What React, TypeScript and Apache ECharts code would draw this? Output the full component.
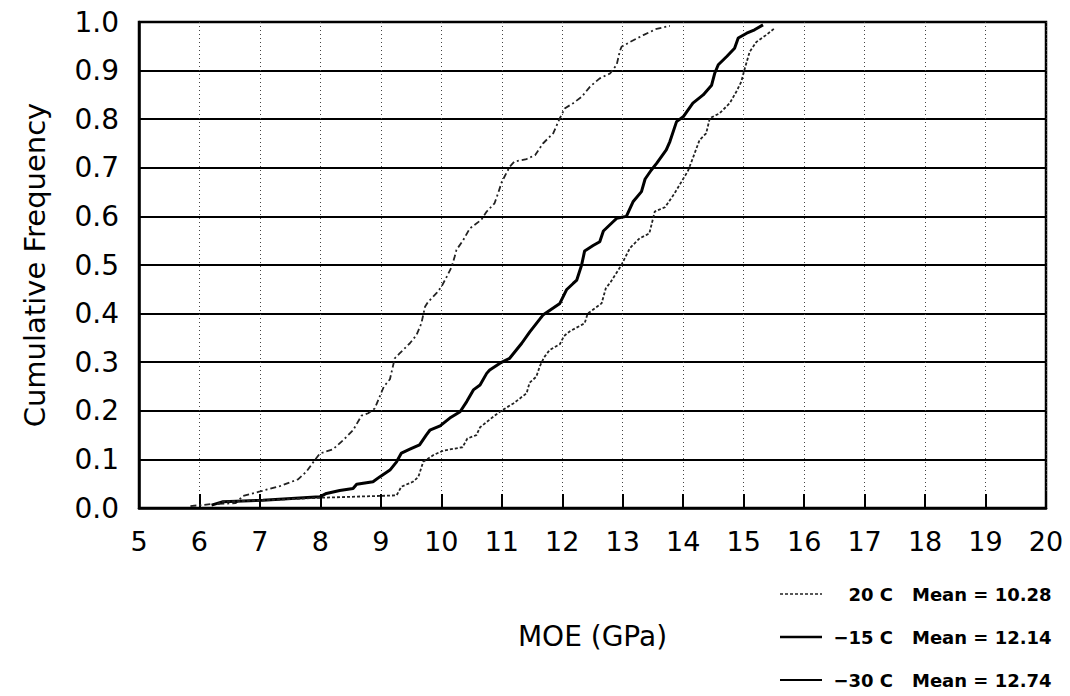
import React, { useEffect, useRef } from "react";
import * as echarts from "echarts";

const xTicks = [5, 20];
const yTicks = [0, 1];

const seriesNames = ["20 C", "−15 C", "−30 C"];
const seriesMeans = ["10.28", "12.14", "12.74"];

const c20: [number, number][] = [
  [5.85, 0.004], [6.2, 0.008], [6.6, 0.01], [6.72, 0.025], [7.0, 0.034], [7.33, 0.045],
  [7.63, 0.059], [7.77, 0.075], [7.91, 0.099], [7.99, 0.112], [8.21, 0.121], [8.38, 0.14],
  [8.54, 0.16], [8.68, 0.19], [8.79, 0.195], [8.9, 0.205], [8.98, 0.229], [9.05, 0.25],
  [9.15, 0.265], [9.23, 0.308], [9.31, 0.318], [9.48, 0.339], [9.59, 0.356], [9.67, 0.38],
  [9.73, 0.414], [9.78, 0.424], [9.92, 0.442], [10.0, 0.455], [10.09, 0.476], [10.17, 0.496],
  [10.22, 0.517], [10.25, 0.531], [10.36, 0.551], [10.47, 0.575], [10.66, 0.593], [10.75, 0.61],
  [10.88, 0.627], [10.94, 0.648], [11.0, 0.671], [11.13, 0.702], [11.21, 0.713], [11.41, 0.718],
  [11.55, 0.726], [11.68, 0.75], [11.85, 0.771], [11.96, 0.802], [12.04, 0.822], [12.18, 0.833],
  [12.32, 0.846], [12.46, 0.867], [12.62, 0.884], [12.79, 0.894], [12.9, 0.912], [12.95, 0.939],
  [12.98, 0.949], [13.12, 0.959], [13.34, 0.973], [13.56, 0.986], [13.78, 0.992],
];

const c15: [number, number][] = [
  [6.2, 0.006], [6.39, 0.013], [7.05, 0.016], [7.99, 0.023], [8.1, 0.03], [8.32, 0.036],
  [8.54, 0.04], [8.6, 0.049], [8.87, 0.054], [8.98, 0.064], [9.15, 0.078], [9.26, 0.095],
  [9.34, 0.113], [9.48, 0.121], [9.64, 0.13], [9.75, 0.15], [9.81, 0.16], [9.98, 0.169],
  [10.14, 0.185], [10.31, 0.198], [10.42, 0.219], [10.53, 0.243], [10.64, 0.253], [10.75, 0.277],
  [10.8, 0.284], [10.97, 0.298], [11.13, 0.308], [11.24, 0.325], [11.33, 0.339], [11.46, 0.362],
  [11.68, 0.397], [11.96, 0.421], [12.07, 0.449], [12.18, 0.462], [12.24, 0.469], [12.32, 0.5],
  [12.37, 0.529], [12.51, 0.54], [12.62, 0.548], [12.68, 0.57], [12.84, 0.589], [12.9, 0.596],
  [13.06, 0.6], [13.17, 0.63], [13.31, 0.651], [13.37, 0.677], [13.47, 0.695], [13.56, 0.709],
  [13.72, 0.737], [13.78, 0.754], [13.89, 0.795], [14.0, 0.805], [14.16, 0.833], [14.33, 0.85],
  [14.47, 0.87], [14.52, 0.894], [14.58, 0.912], [14.72, 0.929], [14.85, 0.946], [14.91, 0.967],
  [15.05, 0.977], [15.18, 0.984], [15.32, 0.994],
];

const c30: [number, number][] = [
  [6.3, 0.008], [6.39, 0.013], [7.05, 0.016], [7.99, 0.021], [9.26, 0.026], [9.34, 0.044],
  [9.53, 0.054], [9.62, 0.064], [9.7, 0.095], [9.87, 0.109], [10.03, 0.118], [10.35, 0.125],
  [10.43, 0.143], [10.58, 0.15], [10.64, 0.166], [10.86, 0.188], [10.99, 0.2], [11.19, 0.215],
  [11.41, 0.236], [11.46, 0.258], [11.57, 0.27], [11.63, 0.292], [11.7, 0.31], [11.79, 0.325],
  [11.96, 0.337], [12.03, 0.354], [12.13, 0.364], [12.37, 0.38], [12.42, 0.4], [12.65, 0.421],
  [12.72, 0.452], [12.8, 0.465], [12.97, 0.498], [13.12, 0.535], [13.28, 0.555], [13.44, 0.565],
  [13.53, 0.61], [13.7, 0.619], [13.85, 0.646], [13.97, 0.671], [14.08, 0.694], [14.16, 0.72],
  [14.27, 0.757], [14.38, 0.771], [14.44, 0.802], [14.6, 0.812], [14.77, 0.833], [14.88, 0.857],
  [14.96, 0.877], [15.02, 0.905], [15.1, 0.939], [15.21, 0.959], [15.37, 0.973], [15.51, 0.987],
];

const FONT = "DejaVu Sans";

const lineStyles = [
  { color: "#222", width: 1.8, type: [6, 3, 2, 3] as number[] | "solid" },
  { color: "#000", width: 3, type: "solid" as number[] | "solid" },
  { color: "#222", width: 1.8, type: [3, 2] as number[] | "solid" },
];
const legendLineStyles = [
  { color: "#222", width: 1.5, dash: [3, 2] },
  { color: "#000", width: 2.5, dash: null },
  { color: "#000", width: 2, dash: null },
];

export default function App() {
  const ref = useRef<HTMLDivElement>(null);
  useEffect(() => {
    if (!ref.current) return;
    const chart = echarts.init(ref.current, undefined, { renderer: "svg" });
    const rowY = [594, 637, 680];
    const legendEls: any[] = [];
    seriesNames.forEach((n, i) => {
      const ls = legendLineStyles[i];
      legendEls.push({
        type: "line",
        shape: { x1: 780, y1: rowY[i], x2: 822, y2: rowY[i] },
        style: { stroke: ls.color, lineWidth: ls.width, lineDash: ls.dash || undefined },
      });
      legendEls.push({
        type: "text",
        x: 893,
        y: rowY[i],
        style: {
          text: n,
          align: "right",
          verticalAlign: "middle",
          font: `bold 18px '${FONT}'`,
          fill: "#000",
        },
      });
      legendEls.push({
        type: "text",
        x: 912,
        y: rowY[i],
        style: {
          text: `Mean = ${seriesMeans[i]}`,
          align: "left",
          verticalAlign: "middle",
          font: `bold 18px '${FONT}'`,
          fill: "#000",
        },
      });
    });
    chart.setOption({
      animation: false,
      backgroundColor: "#ffffff",
      grid: {
        left: 139,
        top: 22,
        right: 24,
        bottom: 188,
        show: true,
        borderColor: "#000",
        borderWidth: 2.5,
        containLabel: false,
      },
      xAxis: {
        type: "value",
        min: xTicks[0],
        max: xTicks[1],
        interval: 1,
        name: "MOE (GPa)",
        nameLocation: "middle",
        nameGap: 114,
        nameTextStyle: { fontFamily: FONT, fontSize: 28, color: "#000" },
        axisLine: { show: true, onZero: false, lineStyle: { color: "#000", width: 2.5 } },
        axisTick: { show: true, inside: true, length: 14, lineStyle: { color: "#000", width: 2 } },
        axisLabel: { fontFamily: FONT, fontSize: 27, color: "#000", margin: 20 },
        splitLine: { show: true, lineStyle: { color: "#444", width: 1, type: [1, 3] } },
      },
      yAxis: {
        type: "value",
        min: yTicks[0],
        max: yTicks[1],
        interval: 0.1,
        name: "Cumulative Frequency",
        nameLocation: "middle",
        nameGap: 90,
        nameRotate: 90,
        nameTextStyle: { fontFamily: FONT, fontSize: 29, color: "#000" },
        axisLine: { show: true, lineStyle: { color: "#000", width: 2.5 } },
        axisTick: { show: false },
        axisLabel: {
          fontFamily: FONT,
          fontSize: 28,
          color: "#000",
          margin: 20,
          formatter: (v: number) => v.toFixed(1),
        },
        splitLine: { show: true, lineStyle: { color: "#000", width: 2 } },
      },
      graphic: legendEls,
      series: seriesNames.map((n, i) => ({
        name: n,
        type: "line",
        data: [c20, c15, c30][i],
        showSymbol: false,
        symbol: "none",
        lineStyle: lineStyles[i],
      })),
    });
    return () => chart.dispose();
  }, []);
  return <div ref={ref} style={{ width: 1070, height: 696, position: "absolute", left: 0, top: 0 }} />;
}
